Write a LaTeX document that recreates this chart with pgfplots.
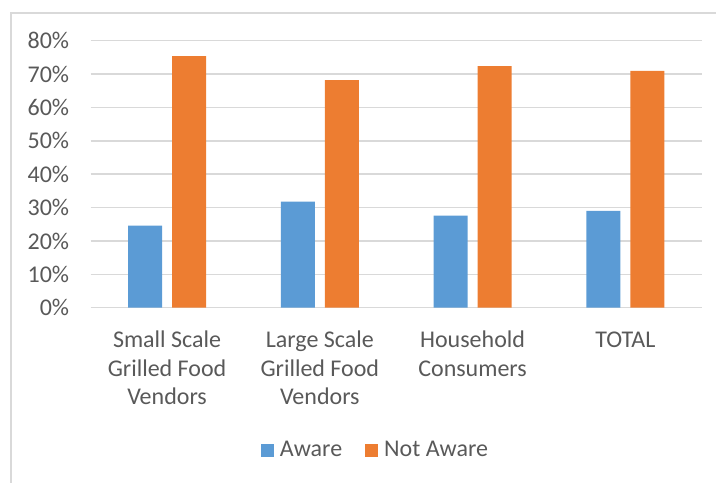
\documentclass[border=0pt]{standalone}
\usepackage{fontspec}
\setmainfont{Carlito}
\usepackage{pgfplots}
\pgfplotsset{compat=1.18}
\definecolor{awareblue}{RGB}{91,155,213}
\definecolor{notorange}{RGB}{237,125,49}
\definecolor{gridgray}{RGB}{217,217,217}
\definecolor{textgray}{RGB}{89,89,89}
\begin{document}
\begin{tikzpicture}
\useasboundingbox (0,0) rectangle (537pt,-361.5pt);
\draw[gridgray, line width=1.1pt] (8.25pt,-362pt) -- (8.25pt,-9.75pt) -- (538pt,-9.75pt);
\begin{axis}[
  at={(68.025pt,-230.775pt)}, anchor=south west,
  scale only axis, width=458.25pt, height=200.25pt,
  ybar, bar width=25.5pt,
  xmin=-0.5, xmax=3.5, ymin=0, ymax=80,
  xtick={0,1,2,3},
  xticklabels={{Small Scale\\Grilled Food\\Vendors},{Large Scale\\Grilled Food\\Vendors},{Household\\Consumers},{TOTAL\vphantom{l}}},
  ytick={0,10,20,30,40,50,60,70,80},
  yticklabels={0\%,10\%,20\%,30\%,40\%,50\%,60\%,70\%,80\%},
  axis line style={draw=none}, major tick length=0pt,
  ymajorgrids, grid style={gridgray, line width=1.1pt},
  tick label style={font=\fontsize{18}{21.6}\selectfont, text=textgray},
  yticklabel style={inner sep=0pt, xshift=-16pt},
  xticklabel style={align=center, inner sep=0pt, yshift=-17pt},
  legend columns=2,
  legend image code/.code={\fill[#1] (0pt,-4.875pt) rectangle (9.75pt,4.875pt);},
  legend style={draw=none, fill=none, at={(0.4645,-0.533)}, anchor=center,
    font=\fontsize{18}{21.6}\selectfont, text=textgray, inner sep=0pt,
    nodes={inner sep=0pt},
    /tikz/every even column/.append style={column sep=17.25pt}},
  legend cell align=left,
]
\addplot[fill=awareblue, draw=none, bar shift=-16.5pt] coordinates {(0,24.6) (1,31.8) (2,27.6) (3,29.0)};
\addplot[fill=notorange, draw=none, bar shift=16.5pt] coordinates {(0,75.4) (1,68.2) (2,72.4) (3,71.0)};
\legend{\hspace{4.5pt}Aware,\hspace{4.5pt}Not Aware}
\end{axis}
\end{tikzpicture}
\end{document}
